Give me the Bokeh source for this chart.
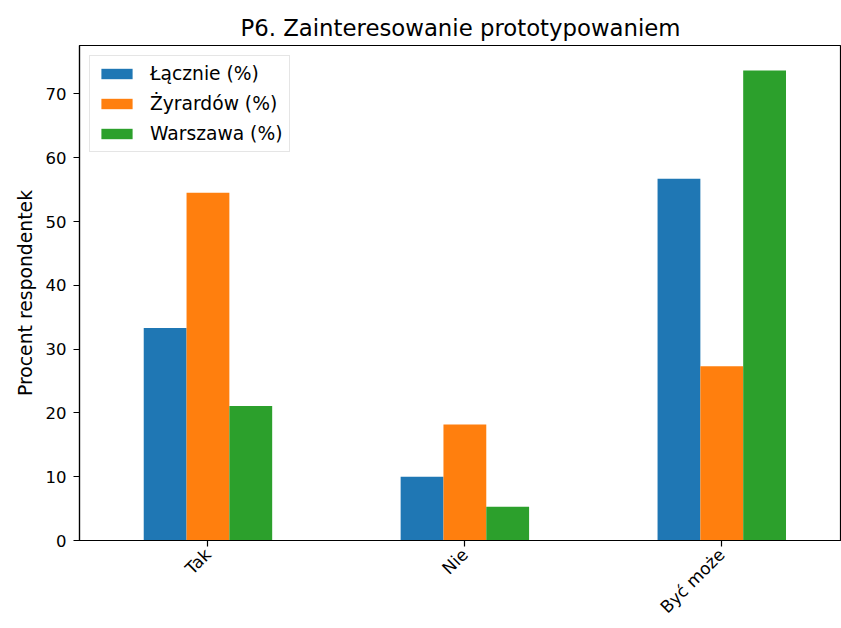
import math
from bokeh.plotting import figure
from bokeh.models import Range1d, FixedTicker, Legend, LegendItem, ColumnDataSource
from bokeh.embed import file_html
from bokeh.resources import INLINE

# ---- data ----
categories = ["Tak", "Nie", "Być może"]
series_names = ["Łącznie (%)", "Żyrardów (%)", "Warszawa (%)"]
lacznie = [33.3, 10.0, 56.7]
zyrardow = [54.5, 18.2, 27.3]
warszawa = [21.1, 5.3, 73.7]
colors = ["#1f77b4", "#ff7f0e", "#2ca02c"]
y_ticks = [0, 10, 20, 30, 40, 50, 60, 70]

FONT = "DejaVu Sans"

p = figure(width=841, height=628,
           x_range=Range1d(-0.5, 2.466), y_range=Range1d(0, 77.6),
           output_backend="svg", toolbar_location=None,
           min_border_left=79, min_border_right=0,
           min_border_top=45, min_border_bottom=88)

p.title.text = "P6. Zainteresowanie prototypowaniem"
p.title.align = "center"
p.title.text_font = FONT
p.title.text_font_size = "22.8px"
p.title.text_font_style = "normal"
p.title.text_color = "black"
p.title.offset = 6

series = [lacznie, zyrardow, warszawa]
n_series = len(series)
w = 0.5 / n_series
items = []
for i, (name, vals, col) in enumerate(zip(series_names, series, colors)):
    off = (i - (n_series - 1) / 2) * w
    src = ColumnDataSource(dict(x=[j + off for j in range(len(categories))], top=vals))
    r = p.vbar(x="x", top="top", width=w, source=src, fill_color=col, line_color=None)
    items.append(LegendItem(label=name, renderers=[r]))

legend = Legend(items=items, location="top_left")
legend.margin = 10
legend.padding = 7
legend.spacing = 9
legend.glyph_width = 39
legend.glyph_height = 13
legend.label_standoff = 14
legend.label_text_font = FONT
legend.label_text_font_size = "18.7px"
legend.label_text_color = "black"
legend.border_line_color = "#cccccc"
legend.border_line_width = 1
legend.background_fill_alpha = 0.8
p.add_layout(legend)

p.xgrid.visible = False
p.ygrid.visible = False
p.outline_line_color = "black"
p.outline_line_width = 1.2

p.xaxis.ticker = FixedTicker(ticks=list(range(len(categories))))
p.xaxis.major_label_overrides = {i: c for i, c in enumerate(categories)}
p.xaxis.major_label_orientation = math.pi / 4
p.yaxis.ticker = FixedTicker(ticks=y_ticks)
p.yaxis.axis_label = "Procent respondentek"

for ax in (p.xaxis[0], p.yaxis[0]):
    ax.axis_line_color = "black"
    ax.axis_line_width = 1.2
    ax.major_tick_line_color = "black"
    ax.major_tick_line_width = 1.2
    ax.major_tick_out = 6
    ax.major_tick_in = 0
    ax.minor_tick_line_color = None
    ax.major_label_text_font = FONT
    ax.major_label_text_font_size = "16.5px"
    ax.major_label_text_color = "black"
    ax.major_label_standoff = 7
    ax.axis_label_text_font = FONT
    ax.axis_label_text_font_size = "18.8px"
    ax.axis_label_text_font_style = "normal"
    ax.axis_label_text_color = "black"
p.xaxis.major_label_text_font_size = "17px"
p.xaxis.major_label_standoff = 5
p.yaxis.axis_label_standoff = 7

open("out.html", "w").write(file_html(p, INLINE))
